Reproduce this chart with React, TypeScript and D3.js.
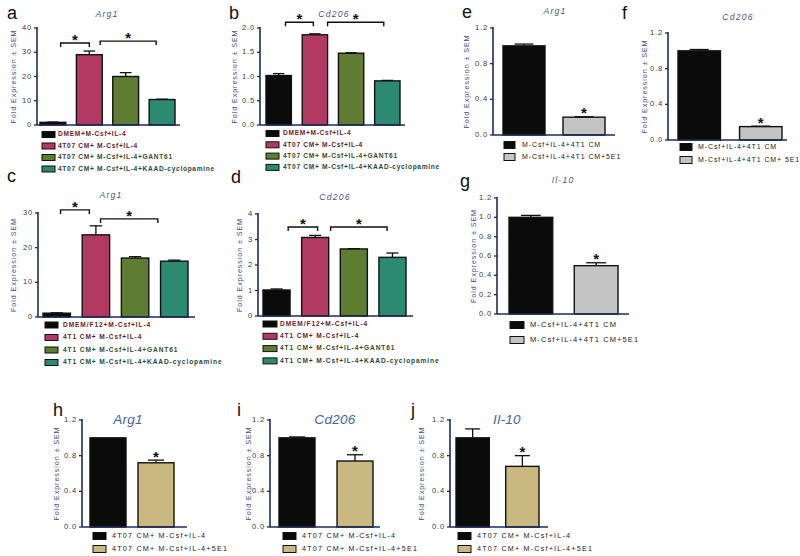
import React from 'react';
import * as d3 from 'd3';

// ---------- DATA ----------
const aLabels = ['DMEM+M-Csf+IL-4', '4T07 CM+ M-Csf+IL-4', '4T07 CM+ M-Csf+IL-4+GANT61', '4T07 CM+ M-Csf+IL-4+KAAD-cyclopamine'];
const cLabels = ['DMEM/F12+M-Csf+IL-4', '4T1 CM+ M-Csf+IL-4', '4T1 CM+ M-Csf+IL-4+GANT61', '4T1 CM+ M-Csf+IL-4+KAAD-cyclopamine'];
const efLabels = ['M-Csf+IL-4+4T1 CM', 'M-Csf+IL-4+4T1 CM+5E1'];
const fLabels = ['M-Csf+IL-4+4T1 CM', 'M-Csf+IL-4+4T1 CM+ 5E1'];
const hLabels = ['4T07 CM+ M-Csf+IL-4', '4T07 CM+ M-Csf+IL-4+5E1'];

const aValues = [1.1, 29.0, 20.0, 10.5];
const aErrors = [0.1, 1.5, 1.6, 0.15];
const bValues = [1.02, 1.86, 1.48, 0.91];
const bErrors = [0.04, 0.02, 0.01, 0.01];
const cValues = [1.1, 23.7, 17.0, 16.1];
const cErrors = [0.1, 2.6, 0.4, 0.3];
const dValues = [1.02, 3.08, 2.63, 2.3];
const dErrors = [0.04, 0.08, 0.01, 0.17];
const eValues = [1.0, 0.2];
const eErrors = [0.02, 0.005];
const fValues = [1.0, 0.15];
const fErrors = [0.015, 0.005];
const gValues = [1.0, 0.5];
const gErrors = [0.02, 0.03];
const hValues = [1.0, 0.72];
const hErrors = [0.0, 0.03];
const iValues = [1.0, 0.74];
const iErrors = [0.01, 0.07];
const jValues = [1.0, 0.68];
const jErrors = [0.1, 0.12];

const ticks40 = [0, 10, 20, 30, 40];
const ticks2 = [0, 0.5, 1.0, 1.5, 2.0];
const ticks30 = [0, 10, 20, 30];
const ticks4 = [0, 1, 2, 3, 4];
const ticks12 = [0, 0.4, 0.8, 1.2];
const ticks12g = [0, 0.2, 0.4, 0.6, 0.8, 1.0, 1.2];

const fourColors = ['#0b0b0b', '#b23a62', '#5e7c32', '#2c8a70'];
const grayColors = ['#0b0b0b', '#c4c4c4'];
const tanColors = ['#0b0b0b', '#c9b87f'];
const fourTextColors = ['#6e2424', '#5e1f30', '#3b4a1f', '#1e4a3e'];
const plainText = ['#222', '#222'];

const FONT = '"Liberation Sans", Arial, Helvetica, sans-serif';
const AXIS = '#1e2a5c';
const YLAB = '#3f4d88';

type Bracket = { from: number; ff: number; to: number; tf: number; level: number };
type Cfg = {
  letter: string; lx: number; ly: number;
  title: string; tx: number; ty: number; big?: boolean;
  ax: number; aend: number; yTop: number; yBot: number; yMax: number; ticks: number[]; fmt: (v: number) => string;
  br: [number, number]; pi: number;
  values: number[]; errors: number[]; colors: string[];
  ylx: number;
  brackets?: Bracket[]; star?: number;
  labels: string[]; textColors: string[]; lgx: number; lgtx: number; lgy: number; lgdy: number; lgw: number; lgh: number; bold: boolean;
  lfs: number; lls: number;
};

const f0 = (v: number) => d3.format('d')(v);
const f1 = (v: number) => d3.format('.1f')(v);

const panels: Cfg[] = [
  { letter: 'a', lx: 7, ly: 19, title: 'Arg1', tx: 107, ty: 17, ax: 37, aend: 180, yTop: 28, yBot: 125, yMax: 40, ticks: ticks40, fmt: f0,
    br: [40, 175], pi: 0.29, values: aValues, errors: aErrors, colors: fourColors, ylx: 14,
    brackets: [{ from: 0, ff: 0.8, to: 1, tf: 0.5, level: 33.8 }, { from: 1, ff: 0.92, to: 3, tf: 0.27, level: 34.6 }],
    labels: aLabels, textColors: fourTextColors, lgx: 42, lgtx: 58, lgy: 134.5, lgdy: 11.5, lgw: 13, lgh: 6, bold: true, lfs: 6.6, lls: 0.7 },
  { letter: 'b', lx: 229, ly: 19, title: 'Cd206', tx: 334, ty: 17, ax: 260, aend: 405, yTop: 28, yBot: 125, yMax: 2, ticks: ticks2, fmt: f1,
    br: [266, 400], pi: 0.3, values: bValues, errors: bErrors, colors: fourColors, ylx: 235,
    brackets: [{ from: 0, ff: 0.77, to: 1, tf: 0.44, level: 2.12 }, { from: 1, ff: 1.0, to: 3, tf: 0.36, level: 2.12 }],
    labels: aLabels, textColors: fourTextColors, lgx: 266, lgtx: 283, lgy: 133.5, lgdy: 11.3, lgw: 13, lgh: 6, bold: true, lfs: 6.6, lls: 0.7 },
  { letter: 'c', lx: 7, ly: 182, title: 'Arg1', tx: 111, ty: 198, ax: 38, aend: 195, yTop: 213, yBot: 317, yMax: 30, ticks: ticks30, fmt: f0,
    br: [43, 188], pi: 0.3, values: cValues, errors: cErrors, colors: fourColors, ylx: 14,
    brackets: [{ from: 0, ff: 0.64, to: 1, tf: 0.26, level: 30.9 }, { from: 1, ff: 0.67, to: 3, tf: -0.1, level: 28.3 }],
    labels: cLabels, textColors: fourTextColors, lgx: 45, lgtx: 63, lgy: 325, lgdy: 12.5, lgw: 13, lgh: 6, bold: true, lfs: 6.6, lls: 0.9 },
  { letter: 'd', lx: 231, ly: 183, title: 'Cd206', tx: 335, ty: 200, ax: 258, aend: 413, yTop: 214, yBot: 316, yMax: 4, ticks: ticks4, fmt: f0,
    br: [263, 406], pi: 0.3, values: dValues, errors: dErrors, colors: fourColors, ylx: 240,
    brackets: [{ from: 0, ff: 0.93, to: 1, tf: 0.59, level: 3.49 }, { from: 1, ff: 1.07, to: 3, tf: 0.3, level: 3.49 }],
    labels: cLabels, textColors: fourTextColors, lgx: 263, lgtx: 280, lgy: 324, lgdy: 12.3, lgw: 14, lgh: 6, bold: true, lfs: 6.6, lls: 0.9 },
  { letter: 'e', lx: 462, ly: 18, title: 'Arg1', tx: 555, ty: 14, ax: 493, aend: 615, yTop: 28, yBot: 135, yMax: 1.2, ticks: ticks12, fmt: f1,
    br: [503, 605], pi: 0.3, values: eValues, errors: eErrors, colors: grayColors, ylx: 467, star: 1,
    labels: efLabels, textColors: plainText, lgx: 504, lgtx: 522, lgy: 145, lgdy: 12, lgw: 11, lgh: 7, bold: false, lfs: 7, lls: 0.9 },
  { letter: 'f', lx: 622, ly: 19, title: 'Cd206', tx: 738, ty: 20, ax: 668, aend: 787, yTop: 33, yBot: 140, yMax: 1.2, ticks: ticks12, fmt: f1,
    br: [678, 782], pi: 0.31, values: fValues, errors: fErrors, colors: grayColors, ylx: 645, star: 1,
    labels: fLabels, textColors: plainText, lgx: 680, lgtx: 698, lgy: 147, lgdy: 13, lgw: 12, lgh: 7, bold: false, lfs: 7, lls: 0.9 },
  { letter: 'g', lx: 460, ly: 187, title: 'Il-10', tx: 563, ty: 183, ax: 497, aend: 629, yTop: 198, yBot: 314, yMax: 1.2, ticks: ticks12g, fmt: f1,
    br: [509, 618], pi: 0.33, values: gValues, errors: gErrors, colors: grayColors, ylx: 474, star: 1,
    labels: efLabels, textColors: plainText, lgx: 510, lgtx: 530, lgy: 325, lgdy: 15, lgw: 14, lgh: 7, bold: false, lfs: 7.5, lls: 1.1 },
  { letter: 'h', lx: 53, ly: 416, title: 'Arg1', tx: 128, ty: 424, big: true, ax: 82, aend: 187, yTop: 420, yBot: 527, yMax: 1.2, ticks: ticks12, fmt: f1,
    br: [90, 174], pi: 0.25, values: hValues, errors: hErrors, colors: tanColors, ylx: 57, star: 1,
    labels: hLabels, textColors: plainText, lgx: 93, lgtx: 112, lgy: 536, lgdy: 13, lgw: 13, lgh: 7, bold: false, lfs: 7.2, lls: 1.2 },
  { letter: 'i', lx: 237, ly: 416, title: 'Cd206', tx: 335, ty: 424, big: true, ax: 270, aend: 380, yTop: 420, yBot: 527, yMax: 1.2, ticks: ticks12, fmt: f1,
    br: [279, 373], pi: 0.38, values: iValues, errors: iErrors, colors: tanColors, ylx: 249, star: 1,
    labels: hLabels, textColors: plainText, lgx: 283, lgtx: 302, lgy: 536, lgdy: 13, lgw: 13, lgh: 7, bold: false, lfs: 7.2, lls: 1.2 },
  { letter: 'j', lx: 411, ly: 416, title: 'Il-10', tx: 507, ty: 424, big: true, ax: 450, aend: 548, yTop: 420, yBot: 527, yMax: 1.2, ticks: ticks12, fmt: f1,
    br: [456, 539], pi: 0.33, values: jValues, errors: jErrors, colors: tanColors, ylx: 422, star: 1,
    labels: hLabels, textColors: plainText, lgx: 458, lgtx: 477, lgy: 536, lgdy: 13, lgw: 13, lgh: 7, bold: false, lfs: 7.2, lls: 1.2 },
];

function Panel({ c }: { c: Cfg }) {
  const y = d3.scaleLinear().domain([0, c.yMax]).range([c.yBot, c.yTop]);
  const x = d3.scaleBand<number>().domain(c.values.map((_, i) => i)).range(c.br).paddingInner(c.pi).paddingOuter(0);
  const bw = x.bandwidth();
  const cap = Math.min(bw * 0.45, 20);
  return (
    <g>
      <text x={c.lx} y={c.ly} fontSize={18} fontFamily={FONT} fill="#111">{c.letter}</text>
      <text x={c.tx} y={c.ty} textAnchor="middle" fontFamily={FONT} fontStyle="italic"
        fontSize={c.big ? 13.5 : 8.6} letterSpacing={c.big ? 0.3 : 1.2} fill={c.big ? '#4265a0' : '#4a5484'}>{c.title}</text>
      <text transform={`translate(${c.ylx},${(c.yTop + c.yBot) / 2}) rotate(-90)`} textAnchor="middle" dominantBaseline="middle"
        fontFamily={FONT} fontSize={7.2} letterSpacing={0.9} fill={YLAB}>Fold Expression ± SEM</text>
      {c.values.map((v, i) => (
        <rect key={'b' + i} x={x(i)} y={y(v)} width={bw} height={c.yBot - y(v)} fill={c.colors[i]} stroke="#111" strokeWidth={1.4} />
      ))}
      {c.values.map((v, i) => c.errors[i] > 0 ? (
        <g key={'e' + i} stroke="#111" strokeWidth={1.3}>
          <line x1={x(i)! + bw / 2} x2={x(i)! + bw / 2} y1={y(v)} y2={y(v + c.errors[i])} />
          <line x1={x(i)! + bw / 2 - cap / 2} x2={x(i)! + bw / 2 + cap / 2} y1={y(v + c.errors[i])} y2={y(v + c.errors[i])} />
        </g>
      ) : null)}
      <line x1={c.ax} x2={c.ax} y1={c.yTop - 1} y2={c.yBot} stroke={AXIS} strokeWidth={1.6} />
      <line x1={c.ax} x2={c.aend} y1={c.yBot} y2={c.yBot} stroke={AXIS} strokeWidth={1.6} />
      {c.ticks.map((t) => (
        <g key={'t' + t}>
          <line x1={c.ax - 3} x2={c.ax} y1={y(t)} y2={y(t)} stroke={AXIS} strokeWidth={1.3} />
          <text x={c.ax - 5} y={y(t)} textAnchor="end" dominantBaseline="middle" fontFamily={FONT} fontSize={7.6}
            letterSpacing={0.8} fill="#3a3a3a">{c.fmt(t)}</text>
        </g>
      ))}
      {(c.brackets || []).map((b, k) => {
        const x1 = x(b.from)! + b.ff * bw;
        const x2 = x(b.to)! + b.tf * bw;
        const yy = y(b.level);
        return (
          <g key={'br' + k}>
            <path d={`M${x1},${yy + 4}V${yy}H${x2}V${yy + 4}`} fill="none" stroke="#111" strokeWidth={1.4} />
            <text x={(x1 + x2) / 2} y={yy + 2} textAnchor="middle" fontFamily={FONT} fontSize={15} fontWeight="bold" fill="#111">*</text>
          </g>
        );
      })}
      {c.star !== undefined ? (
        <text x={x(c.star)! + bw / 2} y={y(c.values[c.star] + c.errors[c.star]) + 1.5} textAnchor="middle" fontFamily={FONT}
          fontSize={15} fontWeight="bold" fill="#111">*</text>
      ) : null}
      {c.labels.map((l, i) => (
        <g key={'l' + i}>
          <rect x={c.lgx} y={c.lgy + i * c.lgdy - c.lgh / 2} width={c.lgw} height={c.lgh} fill={c.colors[i]} stroke="#111" strokeWidth={1} />
          <text x={c.lgtx} y={c.lgy + i * c.lgdy} dominantBaseline="middle" fontFamily={FONT} fontSize={c.lfs}
            fontWeight={c.bold ? 'bold' : 'normal'} letterSpacing={c.lls} fill={c.textColors[i]}>{l}</text>
        </g>
      ))}
    </g>
  );
}

export default function App() {
  return (
    <svg width={800} height={556} style={{ display: 'block', position: 'absolute', left: 0, top: 0, background: '#fff' }}>
      <rect width={800} height={556} fill="#fff" />
      {panels.map((p) => <Panel key={p.letter} c={p} />)}
    </svg>
  );
}
